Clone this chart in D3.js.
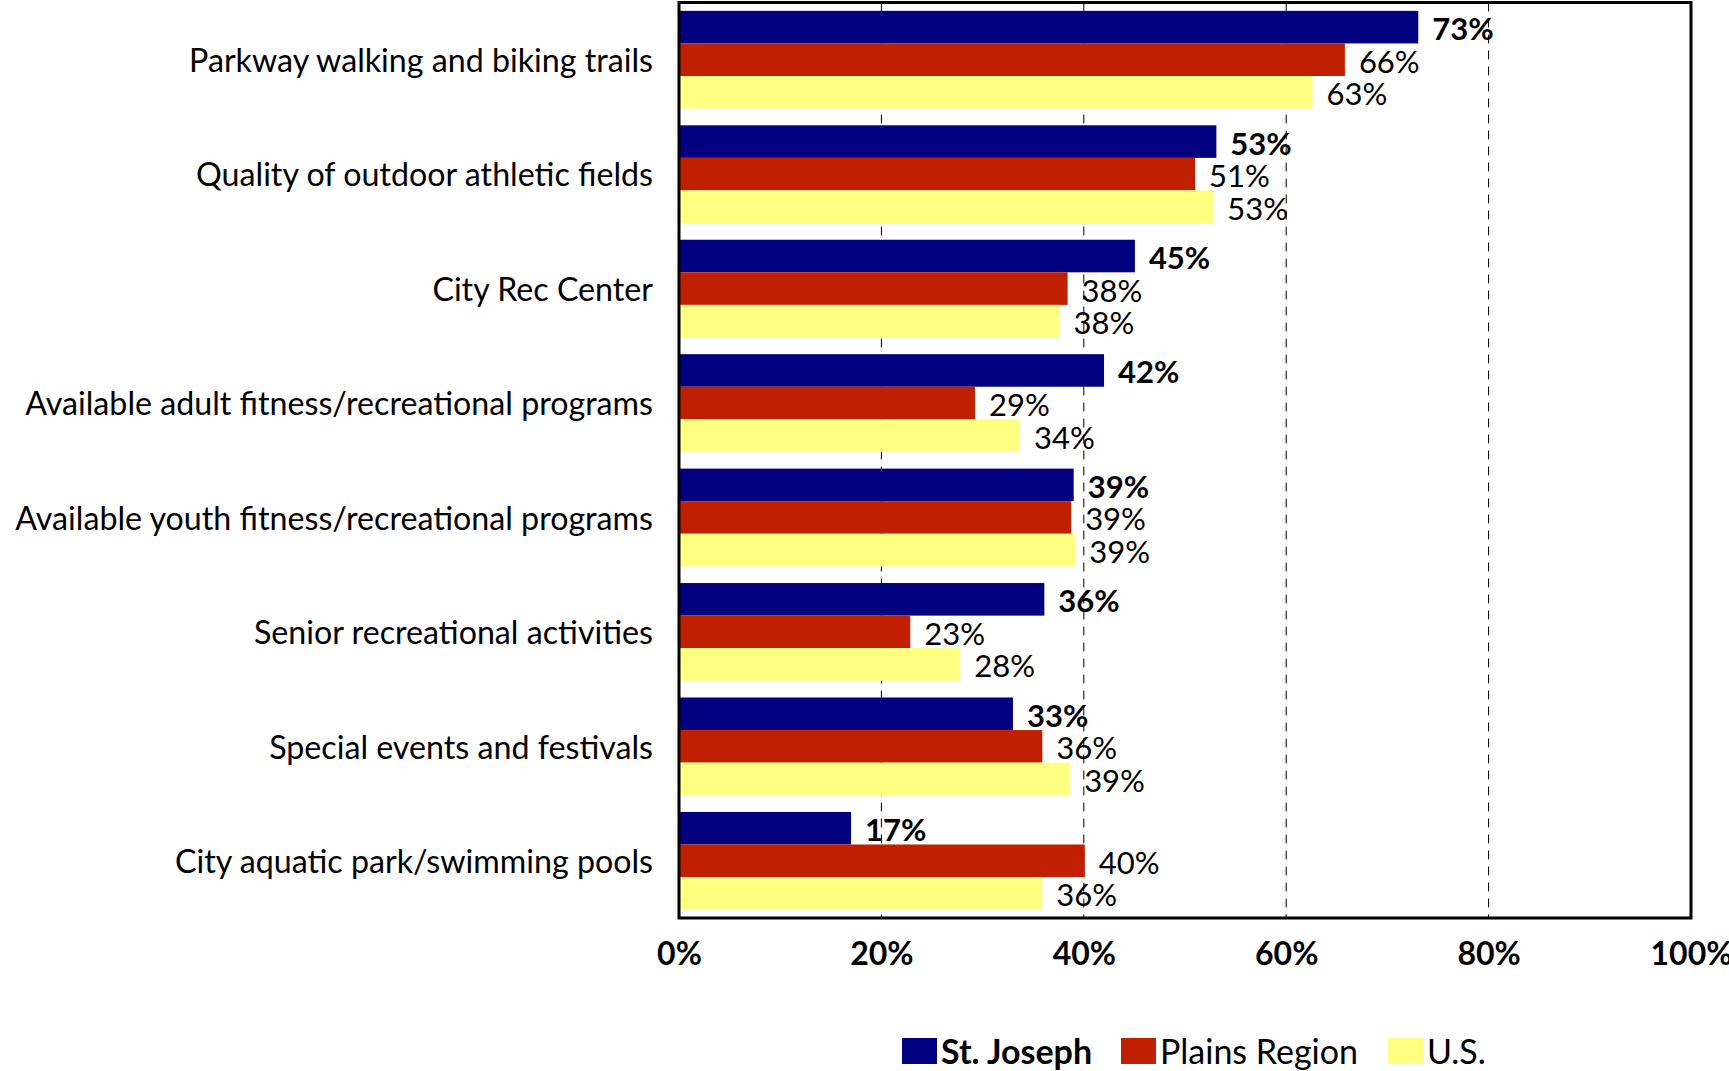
<!DOCTYPE html>
<html><head><meta charset="utf-8">
<script src="https://cdn.jsdelivr.net/npm/d3@7"></script>
<style>body{margin:0;background:#fff}svg{display:block}</style>
</head><body>
<svg id="chart" width="1729" height="1071"></svg>
<script>
const categories = [
  "Parkway walking and biking trails",
  "Quality of outdoor athletic fields",
  "City Rec Center",
  "Available adult fitness/recreational programs",
  "Available youth fitness/recreational programs",
  "Senior recreational activities",
  "Special events and festivals",
  "City aquatic park/swimming pools"
];
const seriesNames = ["St. Joseph", "Plains Region", "U.S."];
const stJoseph = [73.05, 53.1, 45.05, 42.0, 39.0, 36.1, 33.0, 17.0];
const plains   = [65.8, 51.0, 38.4, 29.25, 38.75, 22.85, 35.9, 40.1];
const us       = [62.6, 52.8, 37.6, 33.7, 39.15, 27.8, 38.65, 35.9];
const xTicks = [0, 20, 40, 60, 80, 100];
const colors = ["#000080", "#C02000", "#FFFF80"];

const seriesVals = [stJoseph, plains, us];
const FONT = "Lato, 'Open Sans', sans-serif";
const svg = d3.select("#chart");
const pLeft = 679, pRight = 1691, pTop = 2.5, pBottom = 918;

const x = d3.scaleLinear().domain([0, 100]).range([pLeft, pRight]);
const y = d3.scaleBand().domain(categories).range([pTop, pBottom]).paddingInner(0.146).paddingOuter(0.073);
const ys = d3.scaleBand().domain(seriesNames).range([0, y.bandwidth()]);

// gridlines
svg.append("g").selectAll("line").data(xTicks.filter(t => t > 0 && t < 100)).join("line")
  .attr("x1", d => x(d)).attr("x2", d => x(d)).attr("y1", pTop).attr("y2", pBottom)
  .attr("stroke", "#000").attr("stroke-width", 1).attr("stroke-dasharray", "9,7");

// bars
const groups = svg.append("g").selectAll("g").data(categories).join("g")
  .attr("transform", d => `translate(0,${y(d)})`);
groups.each(function(cat, i) {
  const g = d3.select(this);
  seriesNames.forEach((s, j) => {
    const v = seriesVals[j][i];
    g.append("rect").attr("x", x(0)).attr("y", ys(s)).attr("width", x(v) - x(0)).attr("height", ys.bandwidth())
      .attr("fill", colors[j]);
    g.append("text").attr("x", x(v) + 14).attr("y", ys(s) + ys.bandwidth() / 2 + 1)
      .attr("dominant-baseline", "central").attr("font-family", FONT)
      .attr("font-size", 31).attr("font-weight", j === 0 ? "bold" : "normal").attr("fill", "#000")
      .text(Math.round(v) + "%");
  });
});

// frame
svg.append("rect").attr("x", pLeft).attr("y", pTop).attr("width", pRight - pLeft).attr("height", pBottom - pTop)
  .attr("fill", "none").attr("stroke", "#000").attr("stroke-width", 3);

// y labels
const yAxis = d3.axisLeft(y).tickSize(0).tickPadding(26);
const ya = svg.append("g").attr("transform", `translate(${pLeft},0)`).call(yAxis);
ya.select(".domain").remove();
ya.selectAll("text").attr("font-family", FONT).attr("font-size", 32.2).attr("fill", "#000")
  .attr("dy", "0.35em").attr("y", 1);

// x axis
const xAxis = d3.axisBottom(x).tickValues(xTicks).tickFormat(d => d + "%").tickSize(0).tickPadding(24);
const xa = svg.append("g").attr("transform", `translate(0,${pBottom})`).call(xAxis);
xa.select(".domain").remove();
xa.selectAll("text").attr("font-family", FONT).attr("font-size", 32).attr("font-weight", "bold").attr("fill", "#000");

// legend
const legendX = [902, 1121, 1388];
const lg = svg.append("g").selectAll("g").data(seriesNames).join("g")
  .attr("transform", (d, i) => `translate(${legendX[i]},1038)`);
lg.append("rect").attr("width", 35).attr("height", 26).attr("fill", (d, i) => colors[i]);
lg.append("text").attr("x", 39).attr("y", 12).attr("dominant-baseline", "central")
  .attr("font-family", FONT).attr("font-size", 34).attr("font-weight", (d, i) => i === 0 ? "bold" : "normal")
  .text(d => d);
</script>
</body></html>
